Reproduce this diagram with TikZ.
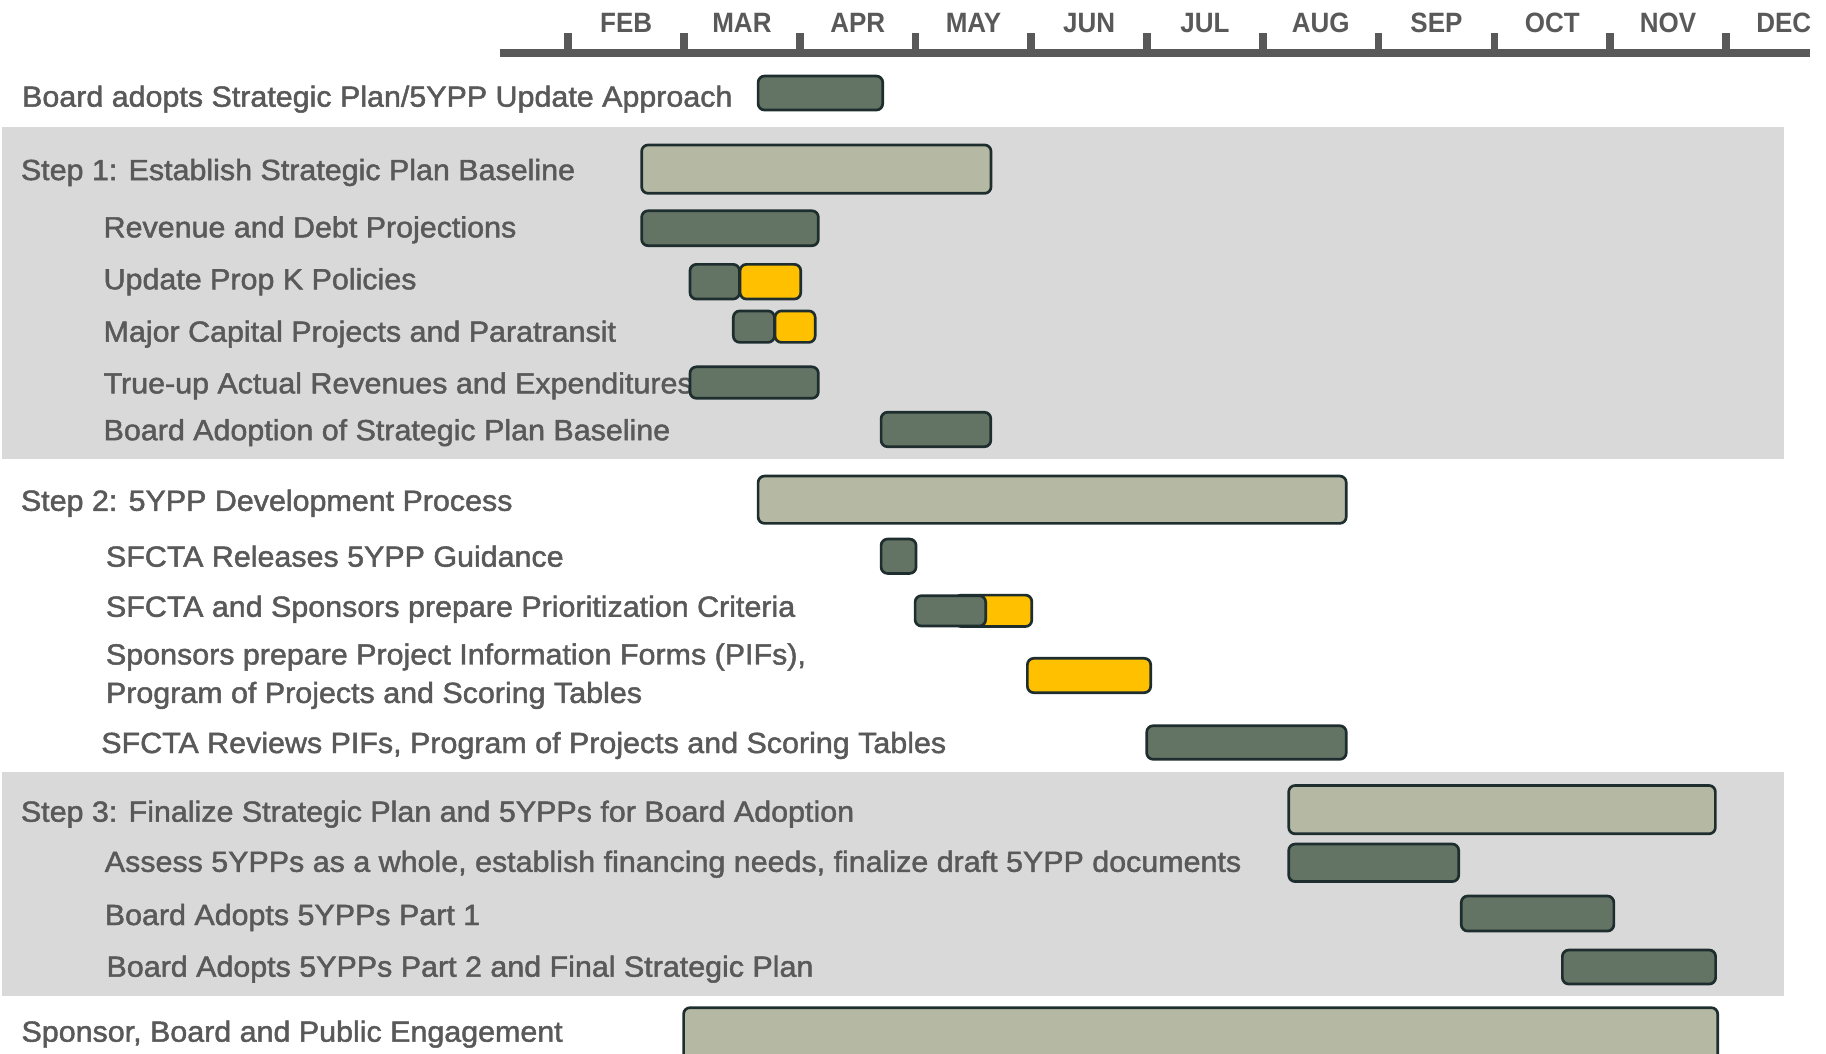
\documentclass[tikz,border=0pt]{standalone}
\usepackage{fontspec}
\setmainfont[FakeStretch=1.045,FakeBold=1.6]{Liberation Sans}
\newfontfamily\monthfont[FakeStretch=0.93]{Liberation Sans}
\definecolor{txt}{HTML}{595959}
\definecolor{band}{HTML}{D9D9D9}
\definecolor{olive}{HTML}{B5B9A4}
\definecolor{darkg}{HTML}{637465}
\definecolor{gold}{HTML}{FFC000}
\definecolor{edge}{HTML}{1E2D2D}
\tikzset{
  lbl/.style={anchor=base west,inner sep=0pt,outer sep=0pt,text=txt,font=\fontsize{25}{29}\selectfont},
  mon/.style={anchor=base,inner sep=0pt,text=txt,font=\monthfont\bfseries\fontsize{24}{26}\selectfont},
  barbase/.style={draw=edge,line width=2.3pt,rounded corners=5.5pt,inner sep=0pt,outer sep=0pt,anchor=north west},
  darkbar/.style={barbase,fill=darkg},
  lightbar/.style={barbase,fill=olive},
  goldbar/.style={barbase,fill=gold},
  axisline/.style={draw=txt,line width=6.3pt},
  tickline/.style={draw=txt,line width=6.6pt}
}
% #1 style, #2 name, #3 x1, #4 y1, #5 x2, #6 y2
\newcommand{\gbar}[6]{\node[#1,minimum width={#5-#3},minimum height={#6-#4}] (#2) at (#3,#4) {};}
\begin{document}
\begin{tikzpicture}[x=1pt,y=-1pt]
\useasboundingbox[fill=white] (0,0) rectangle (1568,905);
% bands
\fill[band] (2,109) rectangle (1531.8,394);
\fill[band] (2,662.7) rectangle (1531.8,855);
% axis
\coordinate (axL) at (429,45.5);
\coordinate (axR) at (1554.5,45.5);
\draw[axisline] (axL) -- (axR);
\foreach \k [count=\i] in {0,...,10}{
  \coordinate (tk\i) at ({488+99.4*\k},45.5);
  \draw[tickline] (tk\i) -- ++(0,-17);
}
\foreach \m [count=\i from 0] in {FEB,MAR,APR,MAY,JUN,JUL,AUG,SEP,OCT,NOV,DEC}{
  \node[mon] (m\i) at ({488+99.4*\i+49.7},27.5) {\m};
}
% labels
\node[lbl] (lA) at (19,91.6) {Board adopts Strategic Plan/5YPP Update Approach};
\node[lbl] (s1) at (18,154.6) {Step 1: Establish Strategic Plan Baseline};
\node[lbl] (r1) at (89,203.8) {Revenue and Debt Projections};
\node[lbl] (r2) at (89,248.4) {Update Prop K Policies};
\node[lbl] (r3) at (89,293.4) {Major Capital Projects and Paratransit};
\node[lbl] (r4) at (89,337.8) {True-up Actual Revenues and Expenditures};
\node[lbl] (r5) at (89,378) {Board Adoption of Strategic Plan Baseline};
\node[lbl] (s2) at (18,438.6) {Step 2: 5YPP Development Process};
\node[lbl] (t1) at (91,486.6) {SFCTA Releases 5YPP Guidance};
\node[lbl] (t2) at (91,529.6) {SFCTA and Sponsors prepare Prioritization Criteria};
\node[lbl] (t3a) at (91,570.6) {Sponsors prepare Project Information Forms (PIFs),};
\node[lbl] (t3b) at (91,603.6) {Program of Projects and Scoring Tables};
\node[lbl] (t4) at (87,646.6) {SFCTA Reviews PIFs, Program of Projects and Scoring Tables};
\node[lbl] (s3) at (18,705.6) {Step 3: Finalize Strategic Plan and 5YPPs for Board Adoption};
\node[lbl] (u1) at (90,748.6) {Assess 5YPPs as a whole, establish financing needs, finalize draft 5YPP documents};
\node[lbl] (u2) at (90,794.3) {Board Adopts 5YPPs Part 1};
\node[lbl] (u3) at (91.5,838.7) {Board Adopts 5YPPs Part 2 and Final Strategic Plan};
\node[lbl] (eng) at (18.5,894.5) {Sponsor, Board and Public Engagement};
% bars
\gbar{darkbar}{bA}{651}{65.3}{758}{94.5}
\gbar{lightbar}{bs1}{551}{124.5}{851}{166}
\gbar{darkbar}{b1}{551}{181}{702.7}{211}
\gbar{darkbar}{b2a}{592.5}{227}{635}{256.8}
\gbar{goldbar}{b2b}{635.5}{227}{687.6}{256.8}
\gbar{darkbar}{b3a}{629.7}{267}{665}{294}
\gbar{goldbar}{b3b}{665.5}{267}{700}{294}
\gbar{darkbar}{b4}{592.5}{315}{702.7}{342}
\gbar{darkbar}{b5}{756.6}{354}{850.8}{383.6}
\gbar{lightbar}{bs2}{651}{408.8}{1156}{449.4}
\gbar{darkbar}{c1}{756.6}{462.9}{786.6}{492.4}
\gbar{goldbar}{c2y}{820}{511}{886}{538}
\gbar{darkbar}{c2}{785.8}{511.5}{846.4}{537.6}
\gbar{goldbar}{c3}{882.2}{565.3}{988.1}{594.8}
\gbar{darkbar}{c4}{984.7}{623.2}{1156}{652}
\gbar{lightbar}{bs3}{1106.6}{674.5}{1473}{716}
\gbar{darkbar}{d1}{1106.6}{724.8}{1252.6}{757}
\gbar{darkbar}{d2}{1254.8}{769.4}{1385.8}{799.5}
\gbar{darkbar}{d3}{1341.6}{815.8}{1473.2}{845}
\gbar{lightbar}{beng}{587}{865.3}{1475}{935}
\end{tikzpicture}
\end{document}
